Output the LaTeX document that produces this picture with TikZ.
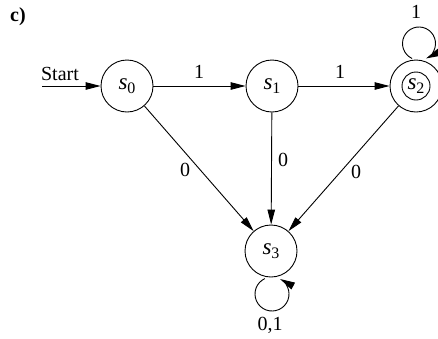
\documentclass[tikz,border=0pt]{standalone}
\usepackage{fontspec}
\setmainfont{Liberation Serif}
\usetikzlibrary{arrows.meta}
\newcommand{\stname}[1]{\fontsize{23}{23}\selectfont\textit{s}\raisebox{-0.35ex}{\fontsize{16}{16}\selectfont #1}}
\begin{document}
\begin{tikzpicture}[x=1pt,y=1pt,
  every node/.style={font=\fontsize{20}{20}\selectfont},
  state/.style={draw,circle,line width=0.9pt,minimum size=52pt,inner sep=0pt},
  inner/.style={draw,circle,line width=0.9pt,minimum size=28pt,inner sep=0pt},
  conn/.style={line width=0.9pt,-{Triangle[length=15pt,width=7.5pt]}},
  lbl/.style={inner sep=0pt}]
\useasboundingbox (0,0) rectangle (438,-338);
\node[font=\fontsize{20}{20}\selectfont\bfseries,lbl] (c) at (18,-17) {c)};
\node[state] (s0) at (127,-86) {\stname{0}};
\node[state] (s1) at (272,-86) {\stname{1}};
\node[state] (s2) at (416,-86) {};
\node[inner] (s2in) at (416,-86) {\stname{2}};
\node[state] (s3) at (271,-251) {\stname{3}};
\coordinate (st) at (42,-86);
\node[lbl] (startlbl) at (60,-74) {Start};
\draw[conn] (st) -- (s0);
\draw[conn] (s0) -- (s1);
\draw[conn] (s1) -- (s2);
\draw[conn] (s0) -- (s3);
\draw[conn] (s1) -- (s3);
\draw[conn] (s2) -- (s3);
\node[lbl] (l01) at (199,-72) {1};
\node[lbl] (l12) at (340,-72) {1};
\node[lbl] (l03) at (185,-170) {0};
\node[lbl] (l13) at (283,-160) {0};
\node[lbl] (l23) at (356,-172) {0};
\coordinate (c2) at (419,-43.5);
\draw[conn] ([shift={(245:16.5)}]c2) arc[start angle=245,end angle=-65,radius=16.5];
\node[lbl] (l22) at (416,-12) {1};
\coordinate (c3) at (272,-294);
\draw[conn] ([shift={(115:17)}]c3) arc[start angle=115,end angle=422,radius=17];
\node[lbl] (l33) at (270,-325) {0,1};
\end{tikzpicture}
\end{document}
